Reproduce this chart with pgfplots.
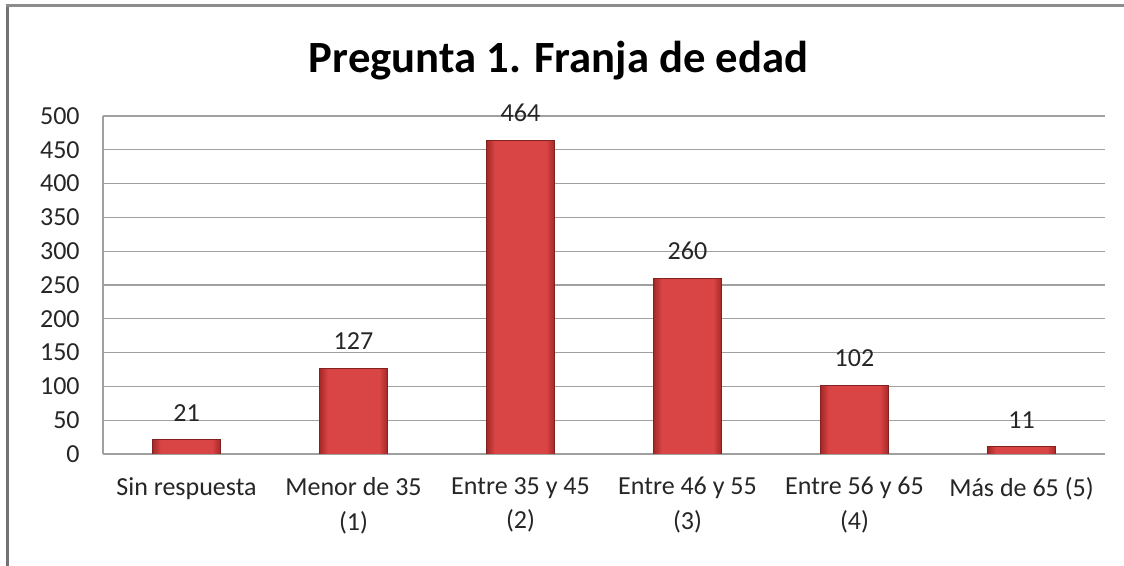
\documentclass[border=0pt]{standalone}
\usepackage{pgfplots}
\pgfplotsset{compat=1.18}
\usepackage{fontspec}
\setmainfont{Carlito}
\definecolor{barmid}{HTML}{D94444}
\definecolor{baredge}{HTML}{A42828}
\definecolor{gridc}{HTML}{A0A0A0}
\definecolor{txt}{HTML}{262626}
\pgfdeclarehorizontalshading{barshade}{100bp}{color(0bp)=(baredge); color(25bp)=(baredge); color(31bp)=(barmid); color(69bp)=(barmid); color(75bp)=(baredge); color(100bp)=(baredge)}
\begin{document}
\begin{tikzpicture}
\useasboundingbox (0,0) rectangle (843pt,424.5pt);
\fill[white] (0,0) rectangle (843pt,424.5pt);
\draw[color=black!55, line width=2.2pt] (5.6pt,0) -- (5.6pt,420.4pt);
\draw[color=black!45, line width=2pt] (4.5pt,420.4pt) -- (843pt,420.4pt);
\node[font=\fontsize{33.5}{38}\selectfont\bfseries, text=black] at (419pt,379pt) {Pregunta 1. Franja de edad};
\begin{axis}[
  at={(77.25pt,84pt)}, anchor=south west,
  scale only axis, width=751.5pt, height=253.5pt,
  xmin=-0.5, xmax=5.5, ymin=0, ymax=500,
  ytick={0,50,...,500},
  xtick={0,1,2,3,4,5},
  xticklabels={Sin respuesta,{Menor de 35\\(1)},{Entre 35 y 45\\(2)},{Entre 46 y 55\\(3)},{Entre 56 y 65\\(4)},{Más de 65 (5)}},
  xticklabel style={align=center, font=\fontsize{19.5}{26}\selectfont, text=txt, yshift=-14pt},
  yticklabel style={font=\fontsize{19.5}{23}\selectfont, text=txt, xshift=-14pt},
  /pgf/number format/assume math mode=true,
  major tick length=0pt,
  ymajorgrids, grid style={gridc, line width=0.8pt},
  axis x line*=bottom, axis y line*=left,
  axis line style={gridc, line width=0.8pt},
  ybar, bar width=51pt, bar shift=0pt,
  nodes near coords,
  every node near coord/.append style={font=\fontsize{19.5}{23}\selectfont, text=txt, yshift=10pt},
  barsty/.style={draw=baredge!80!black, line width=0.6pt, shading=barshade},
]
\addplot[barsty] coordinates {(0,21)};
\addplot[barsty] coordinates {(1,127)};
\addplot[barsty] coordinates {(2,464)};
\addplot[barsty] coordinates {(3,260)};
\addplot[barsty] coordinates {(4,102)};
\addplot[barsty] coordinates {(5,11)};
\end{axis}
\end{tikzpicture}
\end{document}
